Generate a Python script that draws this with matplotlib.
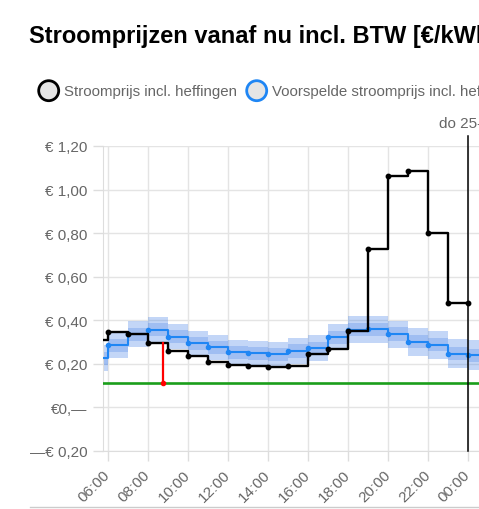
import matplotlib
matplotlib.use('Agg')
import matplotlib.pyplot as plt
from matplotlib.lines import Line2D
from matplotlib.patches import Circle
import numpy as np

plt.rcParams['font.family'] = ['Liberation Sans', 'DejaVu Sans']

# uren (5 = 05:00, 24 = 00:00 volgende dag)
uren = [5, 6, 7, 8, 9, 10, 11, 12, 13, 14, 15, 16, 17, 18, 19, 20, 21, 22, 23, 24]
prijs = [0.31, 0.345, 0.336, 0.297, 0.259, 0.236, 0.210, 0.195, 0.192, 0.186,
         0.190, 0.244, 0.268, 0.352, 0.726, 1.064, 1.085, 0.800, 0.481, 0.481]

uren_vs = [5, 6, 7, 8, 9, 10, 11, 12, 13, 14, 15, 16, 17, 18, 19, 20, 21, 22, 23, 24, 25]
voorspeld = [0.225, 0.286, 0.336, 0.356, 0.325, 0.294, 0.276, 0.253, 0.248, 0.244,
             0.259, 0.271, 0.322, 0.356, 0.359, 0.337, 0.302, 0.287, 0.247, 0.240, 0.236]
band_binnen = [0.03] * 21
band_buiten = [0.06, 0.06, 0.06, 0.058, 0.058, 0.058, 0.058, 0.058, 0.058, 0.058,
               0.06, 0.06, 0.06, 0.062, 0.062, 0.062, 0.064, 0.066, 0.068, 0.07, 0.07]

grens = 0.11          # groene lijn
nu_uur = 8.75         # rode lijn
dag_grens = 24        # verticale lijn "do 25-01"
dag_label = 'do 25-01'

xticks = [6, 8, 10, 12, 14, 16, 18, 20, 22, 24]
xlabels = ['06:00', '08:00', '10:00', '12:00', '14:00', '16:00', '18:00', '20:00', '22:00', '00:00']
yticks = [-0.2, 0.0, 0.2, 0.4, 0.6, 0.8, 1.0, 1.2]
ylabels = ['—€ 0,20', '€0,—', '€ 0,20', '€ 0,40', '€ 0,60', '€ 0,80', '€ 1,00', '€ 1,20']

W, H = 479, 510
fig = plt.figure(figsize=(W / 100, H / 100), dpi=100)
ax = fig.add_axes([103 / W, 1 - 452 / H, 405 / W, 305 / H])

grijs = '#666666'
blauw = '#1f86f4'

vs = np.array(voorspeld)
bi = np.array(band_binnen)
bu = np.array(band_buiten)
ax.fill_between(uren_vs, vs - bu, vs + bu, step='post', color='#3a7ae6', alpha=0.3, lw=0, zorder=2)
ax.fill_between(uren_vs, vs - bi, vs + bi, step='post', color='#3a7ae6', alpha=0.25, lw=0, zorder=2)
ax.plot(uren_vs, voorspeld, drawstyle='steps-post', color=blauw, lw=1.5, zorder=3)
ax.plot(uren_vs, voorspeld, 'o', color=blauw, ms=3, zorder=3)

ax.axhline(grens, color='#1a9e1a', lw=1.9, zorder=4)

ax.plot(uren, prijs, drawstyle='steps-post', color='black', lw=1.7, zorder=5)
ax.plot(uren, prijs, 'o', color='black', ms=3.2, zorder=5)

nu_prijs = prijs[uren.index(int(nu_uur))]
ax.plot([nu_uur, nu_uur], [grens, nu_prijs], color='red', lw=1.6, zorder=6)
ax.plot([nu_uur], [grens], 'o', color='red', ms=3, zorder=6)

ax.plot([dag_grens, dag_grens], [-0.2, 1.246], color='black', lw=1.1, zorder=6, clip_on=False)

ax.set_xlim(5.75, 26)
ax.set_ylim(-0.2, 1.2)
ax.set_xticks(xticks)
ax.set_xticklabels(xlabels, rotation=45, ha='right', rotation_mode='anchor', va='center')
ax.set_yticks(yticks)
ax.set_yticklabels(ylabels)
ax.tick_params(axis='both', colors='#dddddd', labelcolor=grijs, labelsize=11, length=7, width=1)
ax.tick_params(axis='y', pad=4)
ax.tick_params(axis='x', pad=8)
ax.grid(True, color='#e4e4e4', lw=1)
ax.set_axisbelow(True)
for s in ['top', 'right']:
    ax.spines[s].set_visible(False)
for s in ['left', 'bottom']:
    ax.spines[s].set_color('#dddddd')

# titel
fig.text(29 / W, 1 - 43 / H, 'Stroomprijzen vanaf nu incl. BTW [€/kWh]', fontsize=17,
         fontweight='bold', color='black', va='baseline', ha='left')

# legenda
cy = 1 - 91.7 / H
for cx, tx, rand, tekst in [(48.7, 64, 'black', 'Stroomprijs incl. heffingen'),
                            (256.7, 272, blauw, 'Voorspelde stroomprijs incl. heffingen')]:
    fig.add_artist(Circle((cx, H - 91.7), 10, transform=None, facecolor='#e5e5e5',
                          edgecolor=rand, lw=2))
    fig.text(tx / W, cy, tekst, fontsize=10.8, color=grijs, va='center', ha='left')

fig.text(439 / W, 1 - 124 / H, dag_label, fontsize=11, color=grijs, va='center', ha='left')

fig.add_artist(Line2D([30 / W, 1], [1 - 508 / H, 1 - 508 / H], color='#cccccc', lw=1,
                      transform=fig.transFigure))

fig.savefig('out.png', dpi=100)
